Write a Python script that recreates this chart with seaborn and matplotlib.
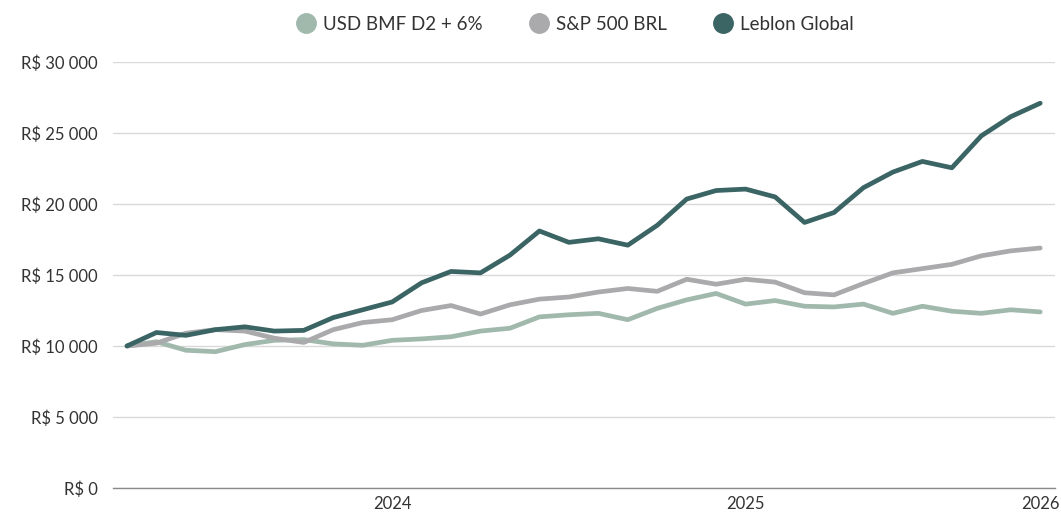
import matplotlib
matplotlib.use("Agg")
import matplotlib.pyplot as plt
import seaborn as sns
import pandas as pd
import numpy as np
from matplotlib.lines import Line2D
from matplotlib.ticker import FuncFormatter

# Monthly observations, Apr 2023 .. Nov 2025
months = pd.date_range("2023-04-01", periods=32, freq="MS")
leblon = [10000, 10950, 10750, 11150, 11350, 11050, 11100, 12000, 12550, 13100,
          14450, 15250, 15150, 16400, 18100, 17300, 17550, 17100, 18500, 20350,
          20950, 21050, 20500, 18700, 19400, 21150, 22250, 23000, 22550, 24800,
          26150, 27100]
sp500 = [10000, 10200, 10900, 11150, 11050, 10550, 10250, 11150, 11650, 11850,
         12500, 12850, 12250, 12900, 13300, 13450, 13800, 14050, 13850, 14700,
         14350, 14700, 14500, 13750, 13600, 14400, 15150, 15450, 15750, 16350,
         16700, 16900]
usd = [10000, 10300, 9700, 9600, 10100, 10400, 10450, 10150, 10050, 10400,
       10500, 10650, 11050, 11250, 12050, 12200, 12300, 11850, 12650, 13250,
       13700, 12950, 13200, 12800, 12750, 12950, 12300, 12800, 12450, 12300,
       12550, 12400]
series_names = ["USD BMF D2 + 6%", "S&P 500 BRL", "Leblon Global"]
colors = ["#a1b9ad", "#aaaaac", "#3b6464"]
x_tick_labels = ["2024", "2025", "2026"]
y_ticks = [0, 5000, 10000, 15000, 20000, 25000, 30000]

sns.set_theme(style="white")
plt.rcParams["font.family"] = ["Lato", "DejaVu Sans"]

idx = np.arange(len(months))
df = pd.DataFrame({"idx": np.tile(idx, 3),
                   "value": usd + sp500 + leblon,
                   "series": np.repeat(series_names, len(months))})

fig = plt.figure(figsize=(10.61, 5.16), dpi=100)
ax = fig.add_axes([0.1065, 0.0543, 0.8878, 0.8255])

sns.lineplot(data=df, x="idx", y="value", hue="series", hue_order=series_names,
             palette=colors, linewidth=3.4, ax=ax, legend=False,
             solid_capstyle="round", solid_joinstyle="round")

ax.set_ylim(0, 30000)
ax.set_xlim(-0.475, 31.5)
ax.set_yticks(y_ticks)
ax.yaxis.set_major_formatter(FuncFormatter(lambda v, p: "R$ " + f"{int(v):,}".replace(",", " ")))
# year ticks: Jan 2024, Jan 2025, and end of data
tick_pos = [9, 21, 31]
ax.set_xticks(tick_pos)
ax.set_xticklabels(x_tick_labels)
ax.set_xlabel("")
ax.set_ylabel("")
ax.grid(axis="y", color="#d9d9d9", linewidth=1)
ax.grid(axis="x", visible=False)
for s in ["left", "right", "top"]:
    ax.spines[s].set_visible(False)
ax.spines["bottom"].set_color("#8a8a8a")
ax.spines["bottom"].set_linewidth(1)
ax.tick_params(axis="both", length=0, labelsize=12, colors="#333333")
ax.tick_params(axis="y", pad=11)
ax.tick_params(axis="x", pad=6)

handles = [Line2D([0], [0], marker="o", color="none", markerfacecolor=c,
                  markeredgecolor=c, markersize=14) for c in colors]
leg = fig.legend(handles, series_names, loc="center", bbox_to_anchor=(0.541, 0.953),
                 ncol=3, frameon=False, fontsize=13.5, handletextpad=0.3,
                 columnspacing=2.4, handlelength=1.2)
for t in leg.get_texts():
    t.set_color("#333333")

fig.savefig("out.png", dpi=100)
